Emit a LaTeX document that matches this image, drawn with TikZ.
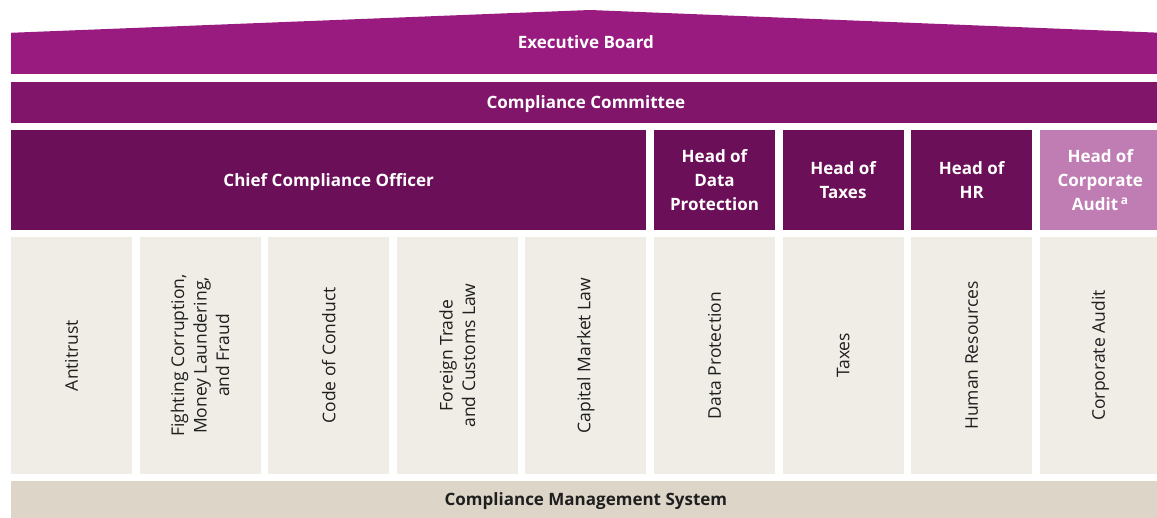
\documentclass[tikz,border=0pt]{standalone}
\usepackage{fontspec}
\setmainfont{Open Sans}
\usetikzlibrary{positioning}

\definecolor{boardc}{HTML}{991B7F}
\definecolor{committeec}{HTML}{80156A}
\definecolor{headc}{HTML}{6B0F58}
\definecolor{auditc}{HTML}{BF7DB3}
\definecolor{cellc}{HTML}{F0EDE6}
\definecolor{systemc}{HTML}{DDD5C8}

\begin{document}
\begin{tikzpicture}[x=1pt,y=-1pt,
        boardbar/.style={rectangle,inner sep=0pt,minimum width=1149.8pt,minimum height=41pt,
            text depth=0pt,text=white,font=\fontsize{17}{22}\selectfont\bfseries},
        headbox/.style={rectangle,fill=headc,inner sep=0pt,minimum width=121pt,minimum height=100pt,
            text=white,align=center,font=\fontsize{17}{24}\selectfont\bfseries},
        cellbox/.style={rectangle,fill=cellc,inner sep=0pt,minimum width=121pt,minimum height=237pt},
        celltext/.style={rotate=90,align=center,text=black!88,font=\fontsize{17.5}{22.5}\selectfont}]
		\useasboundingbox (0,0) rectangle (1157,518);
		% board with roof
		\node [boardbar,fill=boardc] (1) at (585.9,53.5) {};
		\fill [boardc] (1.north west) -- (590,10) -- (1.north east) -- cycle;
		\node [text=white,font=\fontsize{17}{22}\selectfont\bfseries] (1t) at (585.9,42) {Executive Board};
		\node [boardbar,fill=committeec] (2) at (585.9,102.5) {Compliance Committee};
		% heads
		\node [headbox,minimum width=635.4pt,text depth=0pt] (3) at (328.7,180) {Chief Compliance Officer};
		\node [headbox] (4) at (714.5,180) {Head of\\Data\\Protection};
		\node [headbox] (5) at (843.1,180) {Head of\\Taxes};
		\node [headbox] (6) at (971.7,180) {Head of\\HR};
		\node [headbox,fill=auditc] (7) at (1100.3,180) {Head of\\Corporate\\Audit\,\textsuperscript{a}};
		% topics
		\node [cellbox] (8) at (71.5,355.5) {};
		\node [cellbox] (9) at (200.1,355.5) {};
		\node [cellbox] (10) at (328.7,355.5) {};
		\node [cellbox] (11) at (457.3,355.5) {};
		\node [cellbox] (12) at (585.9,355.5) {};
		\node [cellbox] (13) at (714.5,355.5) {};
		\node [cellbox] (14) at (843.1,355.5) {};
		\node [cellbox] (15) at (971.7,355.5) {};
		\node [cellbox] (16) at (1100.3,355.5) {};
		\node [celltext] at (8) {Antitrust};
		\node [celltext] at (9) {Fighting Corruption,\\Money Laundering,\\and Fraud};
		\node [celltext] at (10) {Code of Conduct};
		\node [celltext] at (11) {Foreign Trade\\and Customs Law};
		\node [celltext] at (12) {Capital Market Law};
		\node [celltext] at (13) {Data Protection};
		\node [celltext] at (14) {Taxes};
		\node [celltext] at (15) {Human Resources};
		\node [celltext] at (16) {Corporate Audit};
		% base
		\node [boardbar,fill=systemc,minimum height=37pt,text=black!88] (17) at (585.9,499.5) {Compliance Management System};
\end{tikzpicture}
\end{document}
